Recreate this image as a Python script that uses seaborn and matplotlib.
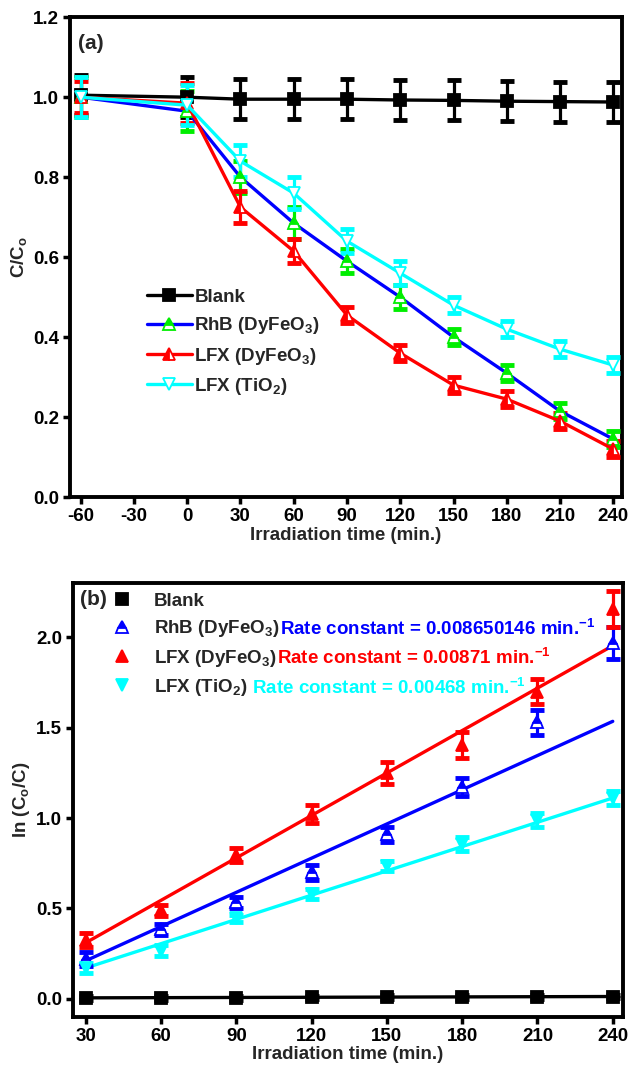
import numpy as np
import matplotlib
matplotlib.use("Agg")
import matplotlib.pyplot as plt
import seaborn as sns

# ---- (a) normalised concentration vs time ----
time_a = [-60, 0, 30, 60, 90, 120, 150, 180, 210, 240]
blank_a = [1.005, 1.0, 0.995, 0.995, 0.995, 0.993, 0.992, 0.990, 0.989, 0.988]
blank_a_err = [0.05, 0.05, 0.05, 0.05, 0.05, 0.05, 0.05, 0.05, 0.05, 0.05]
rhb_a = [1.0, 0.965, 0.80, 0.685, 0.59, 0.50, 0.40, 0.31, 0.215, 0.145]
rhb_a_err = [0.05, 0.05, 0.04, 0.04, 0.03, 0.03, 0.02, 0.02, 0.02, 0.02]
lfx_a = [1.0, 0.985, 0.725, 0.615, 0.455, 0.36, 0.28, 0.245, 0.19, 0.12]
lfx_a_err = [0.04, 0.05, 0.04, 0.03, 0.02, 0.02, 0.02, 0.02, 0.02, 0.02]
tio2_a = [1.0, 0.98, 0.84, 0.76, 0.64, 0.56, 0.48, 0.42, 0.37, 0.33]
tio2_a_err = [0.05, 0.05, 0.04, 0.04, 0.03, 0.03, 0.02, 0.02, 0.02, 0.02]

# ---- (b) pseudo-first-order kinetics ----
time_b = [30, 60, 90, 120, 150, 180, 210, 240]
blank_b = [0.005, 0.005, 0.005, 0.007, 0.008, 0.010, 0.011, 0.012]
blank_b_err = [0.01, 0.01, 0.01, 0.01, 0.01, 0.01, 0.01, 0.01]
rhb_b = [0.22, 0.385, 0.535, 0.70, 0.91, 1.17, 1.53, 1.97]
rhb_b_err = [0.04, 0.03, 0.03, 0.04, 0.04, 0.05, 0.07, 0.09]
lfx_b = [0.325, 0.49, 0.795, 1.025, 1.25, 1.405, 1.70, 2.155]
lfx_b_err = [0.04, 0.03, 0.04, 0.05, 0.06, 0.07, 0.07, 0.10]
tio2_b = [0.17, 0.265, 0.445, 0.58, 0.735, 0.855, 0.99, 1.11]
tio2_b_err = [0.03, 0.03, 0.02, 0.03, 0.03, 0.04, 0.04, 0.04]

# linear fit lines: slope, intercept
fit_blank = (0.000035, 0.004)
fit_rhb = (0.00631, 0.021)
fit_lfx = (0.00783, 0.075)
fit_tio2 = (0.00448, 0.036)

rate_labels = ["Rate constant = 0.008650146 min.$^{\\mathrm{-1}}$",
               "Rate constant = 0.00871 min.$^{\\mathrm{-1}}$",
               " Rate constant = 0.00468 min.$^{\\mathrm{-1}}$"]

xticks_a = [-60, -30, 0, 30, 60, 90, 120, 150, 180, 210, 240]
yticks_a = [0.0, 0.2, 0.4, 0.6, 0.8, 1.0, 1.2]
xticks_b = [30, 60, 90, 120, 150, 180, 210, 240]
yticks_b = [0.0, 0.5, 1.0, 1.5, 2.0]

sns.set_style("ticks")
plt.rcParams["font.family"] = ["Liberation Sans", "DejaVu Sans"]
plt.rcParams["font.weight"] = "bold"
plt.rcParams["axes.labelweight"] = "bold"
plt.rcParams["mathtext.fontset"] = "custom"
plt.rcParams["mathtext.rm"] = "Liberation Sans:bold"
plt.rcParams["mathtext.it"] = "Liberation Sans:bold"
plt.rcParams["mathtext.bf"] = "Liberation Sans:bold"
plt.rcParams["mathtext.default"] = "rm"

FS = 13.5
fig = plt.figure(figsize=(6.31, 10.76), dpi=100)
ax1 = fig.add_axes([0.111, 0.538, 0.875, 0.446])
ax2 = fig.add_axes([0.116, 0.055, 0.871, 0.403])

LW = 2.4
MS = 9


def errbars(ax, x, y, e, color):
    ax.errorbar(x, y, yerr=e, fmt="none", ecolor=color, elinewidth=2.3,
                capsize=5, capthick=3.5, zorder=3)


# ---------------- panel (a) ----------------
series_a = [
    (blank_a, blank_a_err, "Blank", dict(color="black", marker="s",
                                        markerfacecolor="black", markeredgecolor="black"), "black"),
    (rhb_a, rhb_a_err, "RhB (DyFeO$_3$)", dict(color="blue", marker="^", fillstyle="top",
                                              markerfacecolor="#00ee00", markerfacecoloralt="white",
                                              markeredgecolor="#00ee00"), "#00ee00"),
    (lfx_a, lfx_a_err, "LFX (DyFeO$_3$)", dict(color="red", marker="^", fillstyle="left",
                                              markerfacecolor="red", markerfacecoloralt="white",
                                              markeredgecolor="red"), "red"),
    (tio2_a, tio2_a_err, "LFX (TiO$_2$)", dict(color="cyan", marker="v",
                                             markerfacecolor="white", markeredgecolor="cyan"), "cyan"),
]
for y, e, lab, kw, ecol in series_a:
    errbars(ax1, time_a, y, e, ecol)
    sns.lineplot(x=time_a, y=y, ax=ax1, label=lab, linewidth=LW, markersize=MS,
                 markeredgewidth=1.3, zorder=4, **kw)

ax1.set_xlim(-66, 245)
ax1.set_ylim(0.0, 1.2)
ax1.set_xticks(xticks_a)
ax1.set_yticks(yticks_a)
ax1.set_xticklabels([str(v) for v in xticks_a])
ax1.set_yticklabels([f"{v:.1f}" for v in yticks_a])
ax1.set_xlabel("Irradiation time (min.)", fontsize=FS, labelpad=1)
ax1.set_ylabel("C/C$_o$", fontsize=FS, labelpad=3)
ax1.text(0.015, 0.965, "(a)", transform=ax1.transAxes, fontsize=15,
         fontweight="bold", va="top", ha="left")
leg1 = ax1.legend(loc="upper left", bbox_to_anchor=(0.125, 0.45), frameon=False,
                  fontsize=FS, handlelength=2.4, handletextpad=0.15, labelspacing=0.5,
                  borderaxespad=0)

# ---------------- panel (b) ----------------
tb = np.array(time_b, dtype=float)
series_b = [
    (blank_b, blank_b_err, fit_blank, "Blank", "black",
     dict(marker="s", color="black", markerfacecolor="black", markeredgecolor="black")),
    (rhb_b, rhb_b_err, fit_rhb, "RhB (DyFeO$_3$)", "blue",
     dict(marker="^", color="blue", fillstyle="top", markerfacecolor="blue",
          markerfacecoloralt="white", markeredgecolor="blue")),
    (lfx_b, lfx_b_err, fit_lfx, "LFX (DyFeO$_3$)", "red",
     dict(marker="^", color="red", markerfacecolor="red", markeredgecolor="red")),
    (tio2_b, tio2_b_err, fit_tio2, "LFX (TiO$_2$)", "cyan",
     dict(marker="v", color="cyan", markerfacecolor="cyan", markeredgecolor="cyan")),
]
for y, e, (k, c), lab, col, mkw in series_b:
    sns.lineplot(x=tb, y=k * tb + c, ax=ax2, color=col, linewidth=LW, zorder=2)
for y, e, (k, c), lab, col, mkw in series_b:
    errbars(ax2, time_b, y, e, col)
    sns.lineplot(x=time_b, y=y, ax=ax2, linestyle="none", markersize=MS,
                 markeredgewidth=1.3, label=lab, zorder=4, **mkw)

ax2.set_xlim(25, 244)
ax2.set_ylim(-0.1, 2.3)
ax2.set_xticks(xticks_b)
ax2.set_yticks(yticks_b)
ax2.set_xticklabels([str(v) for v in xticks_b])
ax2.set_yticklabels([f"{v:.1f}" for v in yticks_b])
ax2.set_xlabel("Irradiation time (min.)", fontsize=FS, labelpad=1)
ax2.set_ylabel("ln (C$_o$/C)", fontsize=FS, labelpad=3)
ax2.text(0.012, 0.985, "(b)", transform=ax2.transAxes, fontsize=15,
         fontweight="bold", va="top", ha="left")
leg2 = ax2.legend(loc="upper left", bbox_to_anchor=(0.055, 1.0), frameon=False,
                  fontsize=FS, handlelength=1.0, handletextpad=1.2, labelspacing=0.45,
                  borderaxespad=0.1)

fig.canvas.draw()
for txt, rl, col in zip(leg2.get_texts()[1:], rate_labels, ["blue", "red", "cyan"]):
    ax2.annotate(rl, xy=(1.0, 0.5), xycoords=txt, va="center", ha="left",
                 color=col, fontsize=FS, fontweight="bold")

for ax in (ax1, ax2):
    for s in ax.spines.values():
        s.set_linewidth(2.8)
        s.set_color("black")
    ax.tick_params(axis="both", which="major", direction="out", length=5, width=2.5,
                   labelsize=FS, pad=3, colors="black")
    for lab in ax.get_xticklabels() + ax.get_yticklabels():
        lab.set_fontweight("bold")

fig.savefig("out.png", dpi=100)
